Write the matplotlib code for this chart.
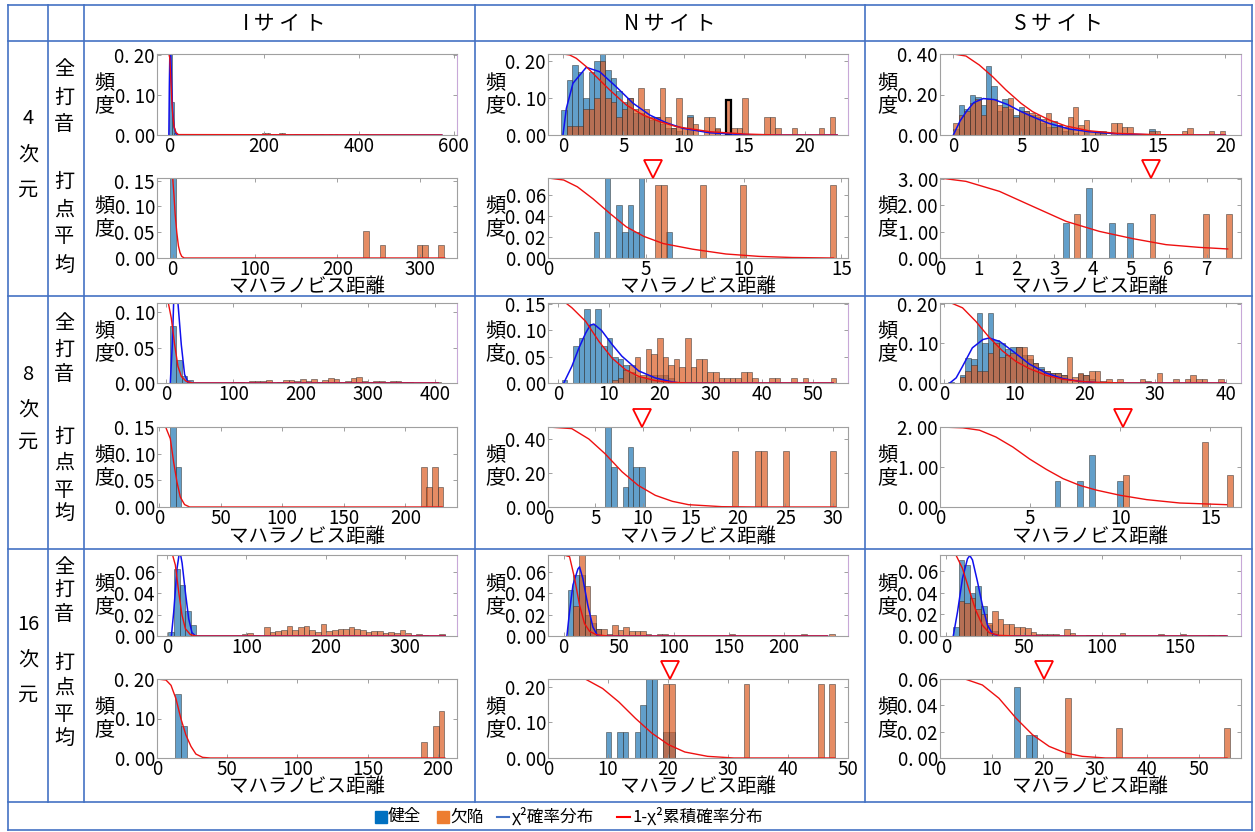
import numpy as np
import matplotlib
matplotlib.use('Agg')
import matplotlib.pyplot as plt
import matplotlib.transforms as mtransforms
from matplotlib.lines import Line2D
from matplotlib.patches import Rectangle
from matplotlib.ticker import FuncFormatter

plt.rcParams['font.family'] = ['Noto Sans CJK JP', 'DejaVu Sans']

# Labels
site_names = ['Iサイト', 'Nサイト', 'Sサイト']
dim_names = ['4', '8', '16']
part_top = '全打音'
part_bottom = '打点平均'
ylabel_text = '頻度'
xlabel_text = 'マハラノビス距離'
legend_labels = ['健全', '欠陥', 'χ²確率分布', '1-χ²累積確率分布']

# ---------------- Iサイト 4次元 ----------------
I4a_bw = 5.8
I4a_blue_x = 2.9
I4a_blue_h = [0.25, 0.082, 0.004]
I4a_orange_x = [133, 199, 205, 211, 235, 241, 247, 266, 272, 322, 340, 352, 416, 450, 530, 560]
I4a_orange_h = [0.002, 0.006, 0.006, 0.005, 0.004, 0.004, 0.003, 0.003, 0.002, 0.002, 0.002, 0.002, 0.003, 0.001, 0.001, 0.001]
I4a_pdf_x = [0, 1, 2, 3, 4, 6, 8, 11, 15, 20, 575]
I4a_pdf_y = [0, 0.12, 0.2, 0.22, 0.2, 0.12, 0.06, 0.02, 0.003, 0, 0]
I4a_sf_x = [0, 2, 4, 6, 8, 11, 15, 20, 575]
I4a_sf_y = [1, 0.95, 0.7, 0.45, 0.25, 0.1, 0.03, 0.005, 0]

I4b_bw = 6.5
I4b_blue_x = [0.6]
I4b_blue_h = [0.30]
I4b_orange_x = [234.5, 254.3, 299.5, 306.3, 325.7]
I4b_orange_h = [0.052, 0.025, 0.025, 0.025, 0.025]
I4b_sf_x = [0, 1.5, 3, 5, 7, 9, 11, 14, 330]
I4b_sf_y = [1, 0.8, 0.55, 0.32, 0.15, 0.065, 0.02, 0, 0]

# ---------------- Nサイト 4次元 ----------------
N4a_bw = 0.454
N4a_blue_x = 0.087
N4a_blue_h = [0.068, 0.15, 0.19, 0.17, 0.10, 0.17, 0.20, 0.23, 0.175, 0.153,
              0.12, 0.09, 0.10, 0.06, 0.06, 0.05, 0.04, 0.05, 0.03, 0.02,
              0.02, 0.01, 0.0, 0.055, 0.0, 0.0, 0.0, 0.0, 0.015]
N4a_orange_x = 0.087
N4a_orange_h = [0.0, 0.025, 0.025, 0.025, 0.07, 0.07, 0.10, 0.20, 0.10, 0.09,
                0.05, 0.07, 0.10, 0.07, 0.128, 0.07, 0.05, 0.05, 0.128, 0.05,
                0.02, 0.10, 0.02, 0.05, 0.03, 0.0, 0.05, 0.05, 0.02, 0.0,
                0.095, 0.02, 0.02, 0.10, 0.0, 0.0, 0.0, 0.05, 0.05, 0.02,
                0.0, 0.0, 0.02, 0.0, 0.0, 0.0, 0.0, 0.02, 0.0, 0.05]
N4a_highlight = 30
N4a_pdf_x = [0, 0.28, 0.83, 1.93, 3.04, 4.42, 5.8, 7.18, 8.56, 9.94, 12.15, 14.9, 17, 22.7]
N4a_pdf_y = [0, 0.072, 0.14, 0.183, 0.171, 0.13, 0.086, 0.054, 0.033, 0.018, 0.006, 0.001, 0, 0]
N4a_sf_x = [0, 0.55, 1.1, 1.93, 2.76, 3.87, 5.25, 6.63, 8.0, 9.4, 12.15, 15.06, 17.8, 22.7]
N4a_sf_y = [1.0, 0.988, 0.947, 0.844, 0.72, 0.556, 0.37, 0.247, 0.165, 0.103, 0.041, 0.012, 0, 0]

N4b_bw = 0.29
N4b_blue_x = [2.48, 3.05, 3.63, 3.93, 4.22, 4.5, 4.78, 6.2]
N4b_blue_h = [0.025, 0.08, 0.05, 0.025, 0.05, 0.025, 0.08, 0.025]
N4b_orange_x = [5.64, 5.93, 7.94, 9.98, 14.58]
N4b_orange_h = [0.069, 0.069, 0.069, 0.069, 0.069]
N4b_sf_x = [0, 0.8, 1.5, 2.3, 3.15, 4.0, 4.9, 5.9, 7.4, 9.1, 10.8, 12.5, 14.6]
N4b_sf_y = [1, 0.975, 0.89, 0.74, 0.56, 0.39, 0.27, 0.18, 0.11, 0.05, 0.02, 0.006, 0.0]

# ---------------- Sサイト 4次元 ----------------
S4a_bw = 0.4
S4a_blue_x = 0.2
S4a_blue_h = [0.03, 0.15, 0.13, 0.20, 0.19, 0.15, 0.34, 0.24, 0.12, 0.18,
              0.13, 0.10, 0.14, 0.12, 0.10, 0.09, 0.06, 0.04, 0.07, 0.05,
              0.02, 0.03, 0.01, 0.0, 0.02, 0.0, 0.02, 0.02, 0, 0,
              0, 0, 0, 0, 0, 0, 0.03]
S4a_orange_x = 0.2
S4a_orange_h = [0.06, 0.10, 0.12, 0.16, 0.18, 0.10, 0.18, 0.18, 0.15, 0.14,
                0.185, 0.09, 0.12, 0.12, 0.11, 0.10, 0.08, 0.11, 0.04, 0.05,
                0.04, 0.09, 0.14, 0.05, 0.075, 0.02, 0.02, 0.01, 0.0, 0.06,
                0.06, 0.04, 0.04, 0.0, 0.0, 0.0, 0.02, 0.02, 0.0, 0.0,
                0.0, 0.0, 0.02, 0.035, 0.0, 0.0, 0.0, 0.02, 0.0, 0.02]
S4a_pdf_x = [0, 0.5, 1.0, 1.5, 2.2, 3.0, 4.0, 5.0, 6.0, 7.0, 8.5, 10, 12, 15, 20]
S4a_pdf_y = [0, 0.07, 0.12, 0.16, 0.18, 0.175, 0.15, 0.115, 0.085, 0.058, 0.03, 0.016, 0.006, 0.0, 0]
S4a_sf_x = [0, 0.93, 1.91, 2.89, 3.87, 4.98, 5.83, 7.06, 8.28, 9.95, 11.96, 14.9, 20]
S4a_sf_y = [1, 0.975, 0.864, 0.72, 0.556, 0.391, 0.288, 0.185, 0.111, 0.053, 0.021, 0.004, 0]

S4b_bw = 0.15
S4b_blue_x = [3.3, 3.91, 4.52, 4.98]
S4b_blue_h = [1.33, 2.67, 1.33, 1.33]
S4b_orange_x = [3.6, 5.58, 6.98, 7.58]
S4b_orange_h = [1.67, 1.67, 1.67, 1.67]
S4b_sf_x = [0, 0.68, 1.56, 2.43, 3.31, 4.18, 5.06, 5.93, 6.8, 7.55]
S4b_sf_y = [1, 0.958, 0.833, 0.646, 0.458, 0.333, 0.242, 0.167, 0.133, 0.113]

# ---------------- Iサイト 8次元 ----------------
I8a_bw = 8.4
I8a_blue_x = 10.0
I8a_blue_h = [0.08, 0.033, 0.01, 0.004]
I8a_orange_x = 102.4
I8a_orange_h = [0.001, 0.001, 0.0, 0.003, 0.003, 0.003, 0.004, 0.0, 0.002, 0.004,
                0.004, 0.003, 0.006, 0.003, 0.005, 0.002, 0.004, 0.007, 0.006, 0.002,
                0.003, 0.007, 0.009, 0.003, 0.002, 0.003, 0.003, 0.002, 0.003, 0.003,
                0.002, 0.002, 0.0, 0.0, 0.0, 0.001, 0.001]
I8a_pdf_x = [5.9, 8.9, 10.9, 14, 17.3, 22.3, 27.2, 32.2, 40, 405]
I8a_pdf_y = [0, 0.054, 0.113, 0.14, 0.113, 0.054, 0.012, 0.0014, 0, 0]
I8a_sf_x = [0, 3, 7.4, 12.4, 17.3, 22.3, 29.7, 40, 405]
I8a_sf_y = [1, 1.0, 0.81, 0.48, 0.21, 0.083, 0.02, 0, 0]

I8b_bw = 4.6
I8b_blue_x = [11.35, 15.8]
I8b_blue_h = [0.15, 0.075]
I8b_orange_x = [215, 219.5, 224, 228.5]
I8b_orange_h = [0.075, 0.0375, 0.075, 0.0375]
I8b_sf_x = [0, 5.4, 9.2, 11.9, 14.6, 17.3, 20.8, 24.9, 230]
I8b_sf_y = [1, 1.0, 0.854, 0.563, 0.313, 0.125, 0.03, 0, 0]

# ---------------- Nサイト 8次元 ----------------
N8a_bw = 1.1
N8a_blue_x = 1.25
N8a_blue_h = [0.005, 0.0, 0.07, 0.085, 0.14, 0.11, 0.14, 0.07, 0.085, 0.05,
              0.045, 0.035, 0.02, 0.012, 0.012, 0.015, 0.015, 0.015, 0.015, 0.01]
N8a_orange_x = 1.25
N8a_orange_h = [0, 0, 0, 0, 0, 0, 0, 0, 0, 0.005,
                0.01, 0.025, 0.035, 0.05, 0.015, 0.065, 0.055, 0.085, 0.05, 0.035,
                0.045, 0.03, 0.085, 0.03, 0.045, 0.045, 0.02, 0.02, 0.01, 0.01,
                0.01, 0.01, 0.02, 0.02, 0.01, 0, 0, 0.01, 0.01, 0,
                0, 0.01, 0, 0.01, 0, 0, 0, 0, 0.01]
N8a_pdf_x = [1.1, 2.7, 4.05, 5.4, 6.3, 7.0, 8.5, 10.6, 12.5, 15.8, 19.1, 22.4, 24, 54]
N8a_pdf_y = [0, 0.032, 0.066, 0.095, 0.11, 0.112, 0.1, 0.073, 0.051, 0.023, 0.0095, 0.002, 0, 0]
N8a_sf_x = [0, 1.5, 2.7, 5.4, 8.0, 10.6, 13.2, 15.8, 19.1, 22.4, 26, 54]
N8a_sf_y = [1, 1.0, 0.94, 0.77, 0.52, 0.31, 0.167, 0.083, 0.029, 0.008, 0, 0]

N8b_bw = 0.6
N8b_blue_x = [6.3, 6.95, 8.15, 8.7, 9.3, 9.9]
N8b_blue_h = [0.472, 0.236, 0.118, 0.355, 0.236, 0.236]
N8b_orange_x = [19.7, 22.1, 22.75, 25.1, 30.0]
N8b_orange_h = [0.331, 0.331, 0.331, 0.331, 0.331]
N8b_sf_x = [0, 2.5, 4.3, 6.0, 7.8, 9.5, 11.3, 13.1, 14.8, 18.3, 22, 30.3]
N8b_sf_y = [1, 0.98, 0.85, 0.667, 0.44, 0.27, 0.146, 0.071, 0.029, 0.004, 0, 0]

# ---------------- Sサイト 8次元 ----------------
S8a_bw = 0.8
S8a_blue_x = 1.0
S8a_blue_h = [0.003, 0.0, 0.02, 0.063, 0.06, 0.177, 0.1, 0.177, 0.11, 0.1,
              0.085, 0.09, 0.09, 0.07, 0.06, 0.05, 0.04, 0.03, 0.025, 0.025,
              0.02, 0.0, 0.0, 0.022, 0.02, 0.01]
S8a_orange_x = 1.0
S8a_orange_h = [0, 0, 0.015, 0.03, 0.045, 0.03, 0.03, 0.075, 0.1, 0.065,
                0.07, 0.075, 0.09, 0.09, 0.07, 0.05, 0.035, 0.03, 0.025, 0.025,
                0.02, 0.065, 0.015, 0.025, 0.02, 0.03, 0.03, 0.005, 0.01, 0,
                0.01, 0, 0, 0, 0.01, 0.005, 0, 0.025, 0, 0,
                0.01, 0, 0.01, 0.02, 0.01, 0.01, 0, 0, 0.01]
S8a_pdf_x = [0.8, 1.7, 2.6, 4.0, 5.5, 6.4, 7.9, 9.8, 12.1, 14.5, 16.9, 19.3, 21.7, 24, 40]
S8a_pdf_y = [0, 0.013, 0.042, 0.089, 0.11, 0.114, 0.105, 0.08, 0.048, 0.025, 0.011, 0.004, 0.001, 0, 0]
S8a_sf_x = [0, 1, 2.6, 4.5, 6.4, 8.3, 10.2, 12.1, 14.5, 16.9, 19.3, 21.7, 26, 40]
S8a_sf_y = [1, 1.0, 0.94, 0.77, 0.57, 0.40, 0.27, 0.18, 0.096, 0.046, 0.021, 0.008, 0, 0]

S8b_bw = 0.32
S8b_blue_x = [6.52, 7.77, 8.43, 10.0]
S8b_blue_h = [0.65, 0.65, 1.3, 0.65]
S8b_orange_x = [10.33, 14.69, 16.07]
S8b_orange_h = [0.81, 1.625, 0.81]
S8b_sf_x = [0, 1.26, 2.19, 3.1, 4.04, 4.97, 5.9, 6.83, 7.76, 8.7, 10, 11.47, 13.3, 15.9]
S8b_sf_y = [1, 0.99, 0.96, 0.875, 0.75, 0.60, 0.47, 0.354, 0.27, 0.21, 0.146, 0.092, 0.05, 0.029]

# ---------------- Iサイト 16次元 ----------------
I16a_bw = 7.1
I16a_blue_x = 5.15
I16a_blue_h = [0.004, 0.0625, 0.0475, 0.023, 0.01]
I16a_orange_x = 97.45
I16a_orange_h = [0.002, 0.003, 0.001, 0, 0.008, 0.004, 0.005, 0.006, 0.009, 0.006,
                 0.008, 0.009, 0.006, 0.004, 0.011, 0.005, 0.006, 0.007, 0.007, 0.008,
                 0.007, 0.006, 0.004, 0.005, 0.005, 0.003, 0.004, 0.003, 0.006, 0.003,
                 0.001, 0.002, 0.001, 0, 0, 0.002]
I16a_pdf_x = [5.5, 8.4, 12.6, 15, 16.8, 19, 23.1, 27.3, 31.5, 36, 350]
I16a_pdf_y = [0, 0.022, 0.063, 0.075, 0.077, 0.068, 0.041, 0.016, 0.003, 0, 0]
I16a_sf_x = [0, 7, 10.5, 14.7, 18.9, 23.1, 29.4, 37, 350]
I16a_sf_y = [1, 1.0, 0.876, 0.545, 0.256, 0.09, 0.017, 0, 0]

I16b_bw = 4.0
I16b_blue_x = [14.9, 19.05]
I16b_blue_h = [0.162, 0.08]
I16b_orange_x = [190.4, 198.7, 202.7]
I16b_orange_h = [0.04, 0.08, 0.12]
I16b_sf_x = [0, 6.4, 10, 13.5, 17, 20.6, 24.2, 27.7, 32.5, 38, 205]
I16b_sf_y = [1, 0.987, 0.92, 0.75, 0.5, 0.29, 0.147, 0.05, 0.008, 0, 0]

# ---------------- Nサイト 16次元 ----------------
N16a_bw = 5.05
N16a_blue_x = 6.45
N16a_blue_h = [0.043, 0.057, 0.057, 0.02, 0.012, 0.007]
N16a_orange_x = 6.45
N16a_orange_h = [0, 0.028, 0.08, 0.047, 0.02, 0.007, 0.007, 0.002, 0.01, 0.006,
                 0.008, 0.005, 0.005, 0.005, 0.002, 0, 0.002, 0.002, 0, 0,
                 0, 0, 0, 0, 0, 0, 0, 0, 0, 0.002,
                 0, 0, 0, 0, 0, 0, 0, 0, 0, 0,
                 0, 0, 0.002, 0, 0, 0, 0, 0.002]
N16a_pdf_x = [3, 5.4, 8.5, 13, 14.5, 17.5, 22, 26.6, 31, 240]
N16a_pdf_y = [0, 0.023, 0.048, 0.063, 0.065, 0.054, 0.029, 0.0085, 0, 0]
N16a_sf_x = [0, 5.4, 10, 14.5, 19, 23.6, 29.6, 40, 240]
N16a_sf_y = [1, 0.98, 0.71, 0.38, 0.153, 0.058, 0.017, 0, 0]

N16b_bw = 0.93
N16b_blue_x = [10.1, 12.0, 12.95, 14.9, 15.85, 16.8, 17.75, 19.7, 20.7]
N16b_blue_h = [0.074, 0.074, 0.074, 0.074, 0.149, 0.223, 0.223, 0.074, 0.074]
N16b_orange_x = [19.7, 20.7, 33.05, 45.5, 47.35]
N16b_orange_h = [0.207, 0.207, 0.207, 0.207, 0.207]
N16b_sf_x = [0, 3.6, 6.3, 9.1, 11.8, 14.6, 17.3, 20.1, 22.8, 26.6, 31, 47.8]
N16b_sf_y = [1, 1.0, 0.996, 0.88, 0.71, 0.5, 0.315, 0.168, 0.076, 0.021, 0, 0]

# ---------------- Sサイト 16次元 ----------------
S16a_bw = 3.55
S16a_blue_x = 6.46
S16a_blue_h = [0.008, 0.07, 0.065, 0.04, 0.046, 0.028, 0.01, 0.005]
S16a_orange_x = 6.46
S16a_orange_h = [0, 0.032, 0.03, 0.035, 0.025, 0.02, 0.012, 0.023, 0.016, 0.011,
                 0.011, 0.008, 0.008, 0.007, 0.004, 0.002, 0.002, 0.002, 0.002, 0,
                 0.006, 0.003, 0, 0, 0.001, 0.001, 0.001, 0, 0, 0,
                 0.003, 0, 0, 0, 0, 0, 0, 0.002, 0, 0,
                 0, 0.002, 0, 0, 0, 0, 0.001, 0, 0.001]
S16a_pdf_x = [4.7, 7.4, 10.6, 13.8, 15.3, 17, 20.2, 23.4, 26.6, 29.8, 34, 180]
S16a_pdf_y = [0, 0.022, 0.053, 0.071, 0.074, 0.07, 0.05, 0.028, 0.01, 0.002, 0, 0]
S16a_sf_x = [0, 6.4, 10.6, 14.9, 19.1, 23.4, 27.7, 34, 45, 180]
S16a_sf_y = [1, 1.0, 0.835, 0.566, 0.318, 0.132, 0.041, 0.008, 0, 0]

S16b_bw = 1.1
S16b_blue_x = [14.85, 17.15, 18.25]
S16b_blue_h = [0.054, 0.0176, 0.0176]
S16b_orange_x = [24.75, 34.65, 55.55]
S16b_orange_h = [0.0453, 0.0226, 0.0226]
S16b_sf_x = [0, 5, 8.2, 11.4, 14.7, 17.9, 21.1, 24.3, 27.5, 32, 55.5]
S16b_sf_y = [1, 0.996, 0.924, 0.756, 0.504, 0.294, 0.147, 0.063, 0.021, 0, 0]

# threshold markers (▽) on the 打点平均 panels
thresholds = {'N4b': 5.37, 'S4b': 5.54, 'N8b': 9.9, 'S8b': 10.17, 'N16b': 20.3, 'S16b': 20.1}

g = globals()
panels = {}
for s in 'INS':
    for d in dim_names:
        for p in 'ab':
            k = f'{s}{d}{p}'
            panels[k] = dict(bw=g[k + '_bw'], bx=g[k + '_blue_x'], bh=g[k + '_blue_h'],
                             ox=g[k + '_orange_x'], oh=g[k + '_orange_h'],
                             pdf=(g.get(k + '_pdf_x'), g.get(k + '_pdf_y')),
                             sf=(g[k + '_sf_x'], g[k + '_sf_y']))

# axis ranges and ticks
axis_cfg = {
    'I4a': ((-25, 607), (0, 0.202), [0, 200, 400, 600], [0, 0.1, 0.2]),
    'I4b': ((-19, 345), (0, 0.155), [0, 100, 200, 300], [0, 0.05, 0.1, 0.15]),
    'N4a': ((-1.24, 23.6), (0, 0.219), [0, 5, 10, 15, 20], [0, 0.1, 0.2]),
    'N4b': ((0, 15.34), (0, 0.0756), [0, 5, 10, 15], [0, 0.02, 0.04, 0.06]),
    'S4a': ((-0.98, 21.15), (0, 0.40), [0, 5, 10, 15, 20], [0, 0.2, 0.4]),
    'S4b': ((0, 7.9), (0, 3.04), [0, 1, 2, 3, 4, 5, 6, 7], [0, 1, 2, 3]),
    'I8a': ((-13.9, 433), (0, 0.113), [0, 100, 200, 300, 400], [0, 0.05, 0.1]),
    'I8b': ((-1.6, 242), (0, 0.15), [0, 50, 100, 150, 200], [0, 0.05, 0.1, 0.15]),
    'N8a': ((-2, 56.9), (0, 0.152), [0, 10, 20, 30, 40, 50], [0, 0.05, 0.1, 0.15]),
    'N8b': ((0, 31.6), (0, 0.473), [0, 5, 10, 15, 20, 25, 30], [0, 0.2, 0.4]),
    'S8a': ((-0.6, 42.2), (0, 0.2025), [0, 10, 20, 30, 40], [0, 0.1, 0.2]),
    'S8b': ((0, 16.7), (0, 2.0), [0, 5, 10, 15], [0, 1, 2]),
    'I16a': ((-12.6, 365), (0, 0.0756), [0, 100, 200, 300], [0, 0.02, 0.04, 0.06]),
    'I16b': ((0, 213.7), (0, 0.20), [0, 50, 100, 150, 200], [0, 0.1, 0.2]),
    'N16a': ((-14.2, 258.6), (0, 0.0762), [0, 50, 100, 150, 200], [0, 0.02, 0.04, 0.06]),
    'N16b': ((0, 49.6), (0, 0.221), [0, 10, 20, 30, 40, 50], [0, 0.1, 0.2]),
    'S16a': ((-3.8, 189), (0, 0.0745), [0, 50, 100, 150], [0, 0.02, 0.04, 0.06]),
    'S16b': ((0, 58.2), (0, 0.06), [0, 10, 20, 30, 40, 50], [0, 0.02, 0.04, 0.06]),
}

BLUE = '#1f77b4'
ORANGE = '#db5b22'
GRID = '#4472c4'

W, H = 1255, 832
fig = plt.figure(figsize=(W / 100, H / 100), dpi=100)


def fx(px):
    return px / W


def fy(py):
    return 1 - py / H


def centers(x, h, bw):
    if np.isscalar(x):
        return x + bw * np.arange(len(h))
    return np.asarray(x, dtype=float)


def vtext(x, ys, chars, size=14):
    for y, c in zip(ys, chars):
        fig.text(fx(x), fy(y), c, ha='center', va='center', fontsize=size)


yfmt = FuncFormatter(lambda v, pos: f'{v:.2f}'.replace('.', '. '))
xfmt = FuncFormatter(lambda v, pos: f'{v:g}')

col_px = {'I': (157, 457), 'N': (548, 848), 'S': (940, 1241)}
row_px = {'4': ((54, 135), (178, 258)), '8': ((303, 383), (427, 507)), '16': ((555, 636), (679, 758))}

axes = {}
for s in 'INS':
    l, r = col_px[s]
    for d in dim_names:
        for p, (t, b) in zip('ab', row_px[d]):
            key = f'{s}{d}{p}'
            pan = panels[key]
            ax = fig.add_axes([fx(l), fy(b), (r - l) / W, (b - t) / H])
            axes[key] = ax
            bx = centers(pan['bx'], pan['bh'], pan['bw'])
            ox = centers(pan['ox'], pan['oh'], pan['bw'])
            ax.bar(bx, pan['bh'], width=pan['bw'], color=BLUE, alpha=0.7,
                   edgecolor='#303030', linewidth=0.5)
            ax.bar(ox, pan['oh'], width=pan['bw'], color=ORANGE, alpha=0.7,
                   edgecolor='#303030', linewidth=0.5)
            if key == 'N4a':
                i = N4a_highlight
                ax.bar(ox[i], pan['oh'][i], width=pan['bw'], fill=False,
                       edgecolor='black', linewidth=1.6)
            if pan['pdf'][0] is not None:
                ax.plot(pan['pdf'][0], pan['pdf'][1], color='#1010ee', lw=1.1)
            ax.plot(pan['sf'][0], pan['sf'][1], color='#ee1010', lw=1.0,
                    transform=ax.get_xaxis_transform())

            xl, yl, xt, yt = axis_cfg[key]
            ax.set_xlim(xl)
            ax.set_ylim(yl)
            ax.set_xticks(xt)
            ax.set_yticks(yt)
            ax.xaxis.set_major_formatter(xfmt)
            ax.yaxis.set_major_formatter(yfmt)
            ax.tick_params(direction='in', length=3, width=0.6, color='#909090',
                           top=True, right=True, labelsize=13.5)
            ax.tick_params(axis='x', pad=0.5)
            ax.tick_params(axis='y', pad=1.5)
            for sp in ax.spines.values():
                sp.set_color('#a0a0a0')
                sp.set_linewidth(0.8)
            if p == 'a':
                ax.spines['right'].set_color('#c8a8d8')

            yc = (t + b) / 2
            vtext(l - 53, [yc - 11, yc + 11], ylabel_text, 14.5)
            if p == 'b':
                fig.text(fx((l + r) / 2), fy(b + 29), xlabel_text, ha='center',
                         va='center', fontsize=14)

# threshold triangles
for key, xv in thresholds.items():
    ax = axes[key]
    tr = mtransforms.offset_copy(ax.get_xaxis_transform(), fig=fig, y=6.5, units='points')
    ax.plot([xv], [1.0], marker='v', ms=13, mfc='none', mec='#ff0000', mew=1.3,
            transform=tr, clip_on=False, zorder=10)

# table frame
for y in [5, 40.5, 295.5, 549, 802, 830]:
    fig.add_artist(Line2D([fx(8), fx(1252)], [fy(y), fy(y)], color=GRID, lw=1.2))
for x in [8, 1252]:
    fig.add_artist(Line2D([fx(x), fx(x)], [fy(5), fy(830)], color=GRID, lw=1.2))
for x in [48, 84, 475, 865]:
    fig.add_artist(Line2D([fx(x), fx(x)], [fy(5), fy(802)], color=GRID, lw=1.2))

# header and row labels
for name, xc in zip(site_names, [284, 670, 1058]):
    fig.text(fx(xc), fy(24), ' '.join(name), ha='center', va='center', fontsize=15)

dim_y = {'4': [118, 155, 190], '8': [375, 410, 442], '16': [625, 660, 695]}
top_y = {'4': [70, 98, 125], '8': [323, 350, 375], '16': [567, 590, 615]}
bot_y = {'4': [182, 210, 237, 265], '8': [437, 463, 490, 513], '16': [663, 688, 715, 738]}
for d in dim_names:
    vtext(28, dim_y[d], [d, '次', '元'], 14.5)
    vtext(64, top_y[d], part_top, 14.5)
    vtext(64, bot_y[d], part_bottom, 14.5)

# legend row
ly = 817
fig.add_artist(Rectangle((fx(375), fy(823)), 12 / W, 12 / H, color='#0070c0'))
fig.text(fx(388), fy(ly), legend_labels[0], ha='left', va='center', fontsize=12)
fig.add_artist(Rectangle((fx(437), fy(823)), 12 / W, 12 / H, color='#ed7d31'))
fig.text(fx(450), fy(ly), legend_labels[1], ha='left', va='center', fontsize=12)
fig.add_artist(Line2D([fx(497), fx(509)], [fy(ly), fy(ly)], color='#4472c4', lw=1.5))
fig.text(fx(512), fy(ly), legend_labels[2], ha='left', va='center', fontsize=12)
fig.add_artist(Line2D([fx(617), fx(630)], [fy(ly), fy(ly)], color='#ff0000', lw=1.5))
fig.text(fx(632), fy(ly), legend_labels[3], ha='left', va='center', fontsize=12)

fig.savefig('out.png', dpi=100, facecolor='white')
